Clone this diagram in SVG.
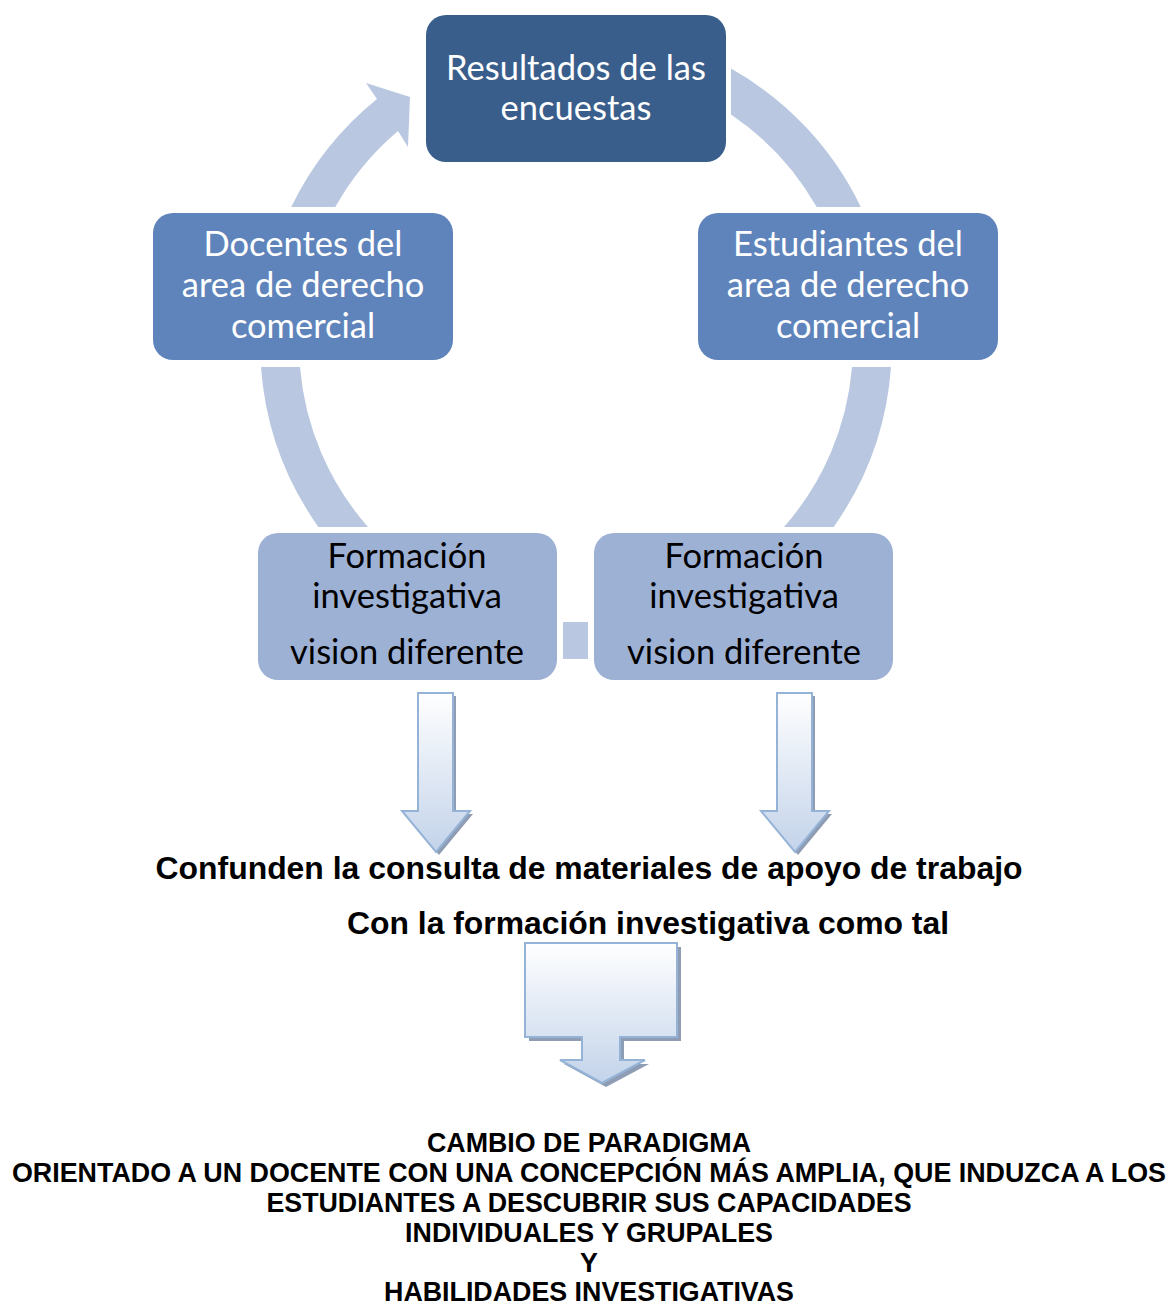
<svg xmlns="http://www.w3.org/2000/svg" width="1172" height="1305" viewBox="0 0 1172 1305">
<defs>
<style>
.arc{fill:#B9C7E0;}
.n1{fill:#3A5E8B;}
.n2{fill:#5F84BB;}
.n3{fill:#9DB1D5;}
.tw{font-family:Lato,"Open Sans",sans-serif;font-size:34.5px;fill:#FFFFFF;text-anchor:middle;}
.tb{font-family:Lato,"Open Sans",sans-serif;font-size:34.5px;fill:#000000;text-anchor:middle;}
.bold{font-family:"Liberation Sans",Arial,sans-serif;font-weight:bold;fill:#000000;text-anchor:middle;}
.arr{fill:url(#g1);stroke:#95B3D7;stroke-width:2;stroke-linejoin:miter;}
.shadow{fill:#8E9DB3;}
</style>
<linearGradient id="g1" x1="0" y1="0" x2="0" y2="1">
<stop offset="0" stop-color="#FFFFFF"/>
<stop offset="1" stop-color="#C3D3EA"/>
</linearGradient>
</defs>
<rect width="1172" height="1305" fill="#FFFFFF"/>
<g id="connectors">
<path class="arc" d="M291.2,207 A316,316 0 0 1 377,99 L366,83 L410,97 L408,147 L398,131 A277,277 0 0 0 335.3,207 Z"/>
<path class="arc" d="M731,68.6 A316,316 0 0 1 860.8,207 L816.7,207 A277,277 0 0 0 731,114.4 Z"/>
<path class="arc" d="M891,367 A316,316 0 0 1 833.6,527 L784,527 A277,277 0 0 0 852,367 Z"/>
<path class="arc" d="M261,367 A316,316 0 0 0 318.4,527 L368,527 A277,277 0 0 1 300,367 Z"/>
<rect class="arc" x="563" y="622" width="25" height="37"/>
<g id="arrow-left">
<polygon class="shadow" points="421,696 456,696 456,814 473,814 439,855 405,814 421,814"/>
<polygon class="arr" points="418,693 453,693 453,811 470,811 436,852 402,811 418,811"/>
</g>
<g id="arrow-right">
<polygon class="shadow" points="780,696 815,696 815,814 832,814 798,855 764,814 780,814"/>
<polygon class="arr" points="777,693 812,693 812,811 829,811 795,852 761,811 777,811"/>
</g>
<g id="arrow-big">
<polygon class="shadow" points="529,947 681,947 681,1041 624,1041 624,1064 649,1064 606,1087 564,1064 586,1064 586,1041 529,1041"/>
<polygon class="arr" points="525,943 677,943 677,1037 620,1037 620,1060 645,1060 602,1083 560,1060 582,1060 582,1037 525,1037"/>
</g>
</g>
<g id="node-resultados">
<rect class="n1" x="426" y="15" width="300" height="147" rx="20"/>
<text class="tw" x="576" y="80">Resultados de las</text>
<text class="tw" x="576" y="120">encuestas</text>
</g>
<g id="node-docentes">
<rect class="n2" x="153" y="213" width="300" height="147" rx="20"/>
<text class="tw" x="303" y="256">Docentes del</text>
<text class="tw" x="303" y="297">area de derecho</text>
<text class="tw" x="303" y="338">comercial</text>
</g>
<g id="node-estudiantes">
<rect class="n2" x="698" y="213" width="300" height="147" rx="20"/>
<text class="tw" x="848" y="256">Estudiantes del</text>
<text class="tw" x="848" y="297">area de derecho</text>
<text class="tw" x="848" y="338">comercial</text>
</g>
<g id="node-formacion-left">
<rect class="n3" x="258" y="533" width="299" height="147" rx="20"/>
<text class="tb" x="407" y="568">Formación</text>
<text class="tb" x="407" y="608">investigativa</text>
<text class="tb" x="407" y="664">vision diferente</text>
</g>
<g id="node-formacion-right">
<rect class="n3" x="594" y="533" width="299" height="147" rx="20"/>
<text class="tb" x="744" y="568">Formación</text>
<text class="tb" x="744" y="608">investigativa</text>
<text class="tb" x="744" y="664">vision diferente</text>
</g>
<g id="text-confunden">
<text class="bold" x="589" y="879" font-size="30.5" textLength="867" lengthAdjust="spacingAndGlyphs">Confunden la consulta de materiales de apoyo de trabajo</text>
<text class="bold" x="648" y="934" font-size="30.5" textLength="602" lengthAdjust="spacingAndGlyphs">Con la formación investigativa como tal</text>
</g>
<g id="text-cambio">
<text class="bold" x="589" y="1152" font-size="26.8">CAMBIO DE PARADIGMA</text>
<text class="bold" x="589" y="1182" font-size="26.8" textLength="1154" lengthAdjust="spacingAndGlyphs">ORIENTADO A UN DOCENTE CON UNA CONCEPCIÓN MÁS AMPLIA, QUE INDUZCA A LOS</text>
<text class="bold" x="589" y="1212" font-size="26.8">ESTUDIANTES A DESCUBRIR SUS CAPACIDADES</text>
<text class="bold" x="589" y="1242" font-size="26.8">INDIVIDUALES Y GRUPALES</text>
<text class="bold" x="589" y="1272" font-size="26.8">Y</text>
<text class="bold" x="589" y="1301" font-size="26.8">HABILIDADES INVESTIGATIVAS</text>
</g>
</svg>
